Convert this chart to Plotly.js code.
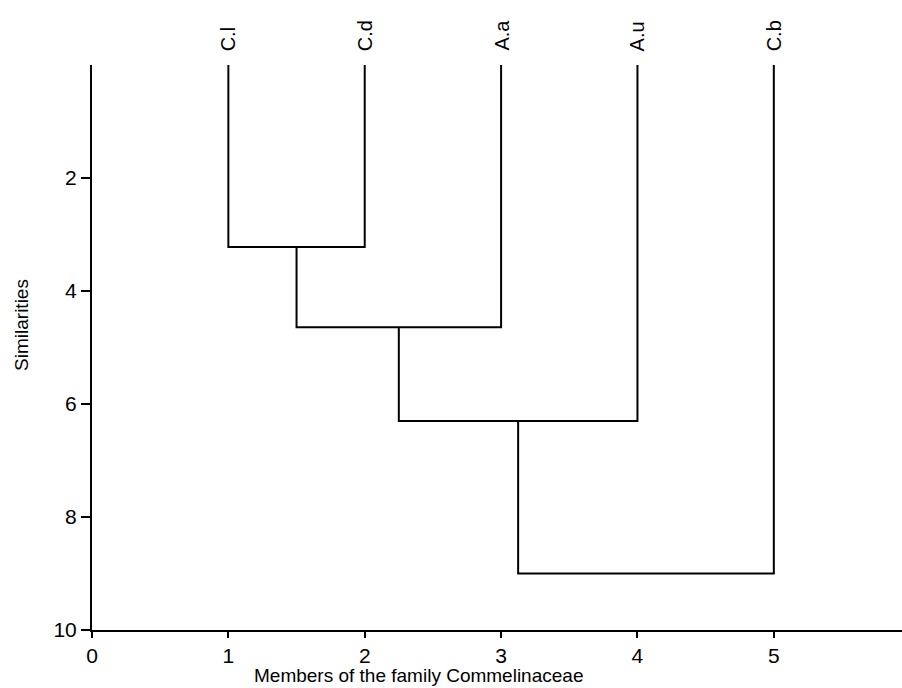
<!DOCTYPE html>
<html>
<head>
<meta charset="utf-8">
<script src="https://cdn.plot.ly/plotly-3.0.1.min.js"></script>
<style>html,body{margin:0;padding:0;background:#fff;}#chart{width:902px;height:688px;}</style>
</head>
<body>
<div id="chart"></div>
<script>
// Leaves (left to right) and their positions on the x axis
const leafLabels = ["C.l", "C.d", "A.a", "A.u", "C.b"];
const leafPositions = [1, 2, 3, 4, 5];
// Linkage: child A index, child B index, merge height (indices >= 5 refer to earlier merges)
const mergeChildA = [0, 5, 6, 7];
const mergeChildB = [1, 2, 3, 4];
const mergeHeights = [3.22, 4.64, 6.3, 9.0];
const xTickVals = [0, 1, 2, 3, 4, 5];
const yTickVals = [2, 4, 6, 8, 10];
const xTitle = "Members of the family Commelinaceae";
const yTitle = "Similarities";

const nodeX = leafPositions.slice();
const nodeH = leafPositions.map(() => 0);
const xs = [], ys = [];
for (let i = 0; i < mergeHeights.length; i++) {
  const a = mergeChildA[i], b = mergeChildB[i], h = mergeHeights[i];
  xs.push(nodeX[a], nodeX[a], nodeX[b], nodeX[b], null);
  ys.push(nodeH[a], h, h, nodeH[b], null);
  nodeX.push((nodeX[a] + nodeX[b]) / 2);
  nodeH.push(h);
}

const fam = "Liberation Sans, Arial, sans-serif";
const tickFont = {family: fam, size: 21, color: "#000"};
const titleFont = {family: fam, size: 19, color: "#000"};
const leafFont = {family: fam, size: 20, color: "#000"};
const traces = [{
  x: xs, y: ys, type: "scatter", mode: "lines",
  line: {color: "#000", width: 2}, hoverinfo: "skip", showlegend: false, cliponaxis: false
}];
const annotations = leafLabels.map((lab, i) => ({
  x: leafPositions[i], y: 0, xref: "x", yref: "y", text: lab, textangle: -90,
  showarrow: false, xanchor: "center", yanchor: "bottom", yshift: 12, font: leafFont
}));
annotations.push({
  xref: "paper", yref: "paper", x: 0.4025, y: -0.0814, text: xTitle,
  showarrow: false, xanchor: "center", yanchor: "middle", font: titleFont
});
annotations.push({
  xref: "paper", yref: "paper", x: -0.0864, y: 0.54, text: yTitle, textangle: -90,
  showarrow: false, xanchor: "center", yanchor: "middle", font: titleFont
});
const layout = {
  width: 902, height: 688,
  margin: {l: 92, r: 0, t: 65, b: 58},
  paper_bgcolor: "#fff", plot_bgcolor: "#fff",
  font: tickFont,
  showlegend: false,
  xaxis: {
    range: [0, 5.94], tickvals: xTickVals, ticks: "outside", ticklen: 6, tickwidth: 2,
    tickcolor: "#000", showline: true, linecolor: "#000", linewidth: 2, showgrid: false,
    zeroline: false, tickfont: tickFont
  },
  yaxis: {
    range: [10, 0], tickvals: yTickVals, ticks: "outside", ticklen: 9, tickwidth: 2,
    tickcolor: "#000", showline: true, linecolor: "#000", linewidth: 2, showgrid: false,
    zeroline: false, tickfont: tickFont
  },
  annotations: annotations
};
Plotly.newPlot("chart", traces, layout, {displayModeBar: false, staticPlot: true});
</script>
</body>
</html>
